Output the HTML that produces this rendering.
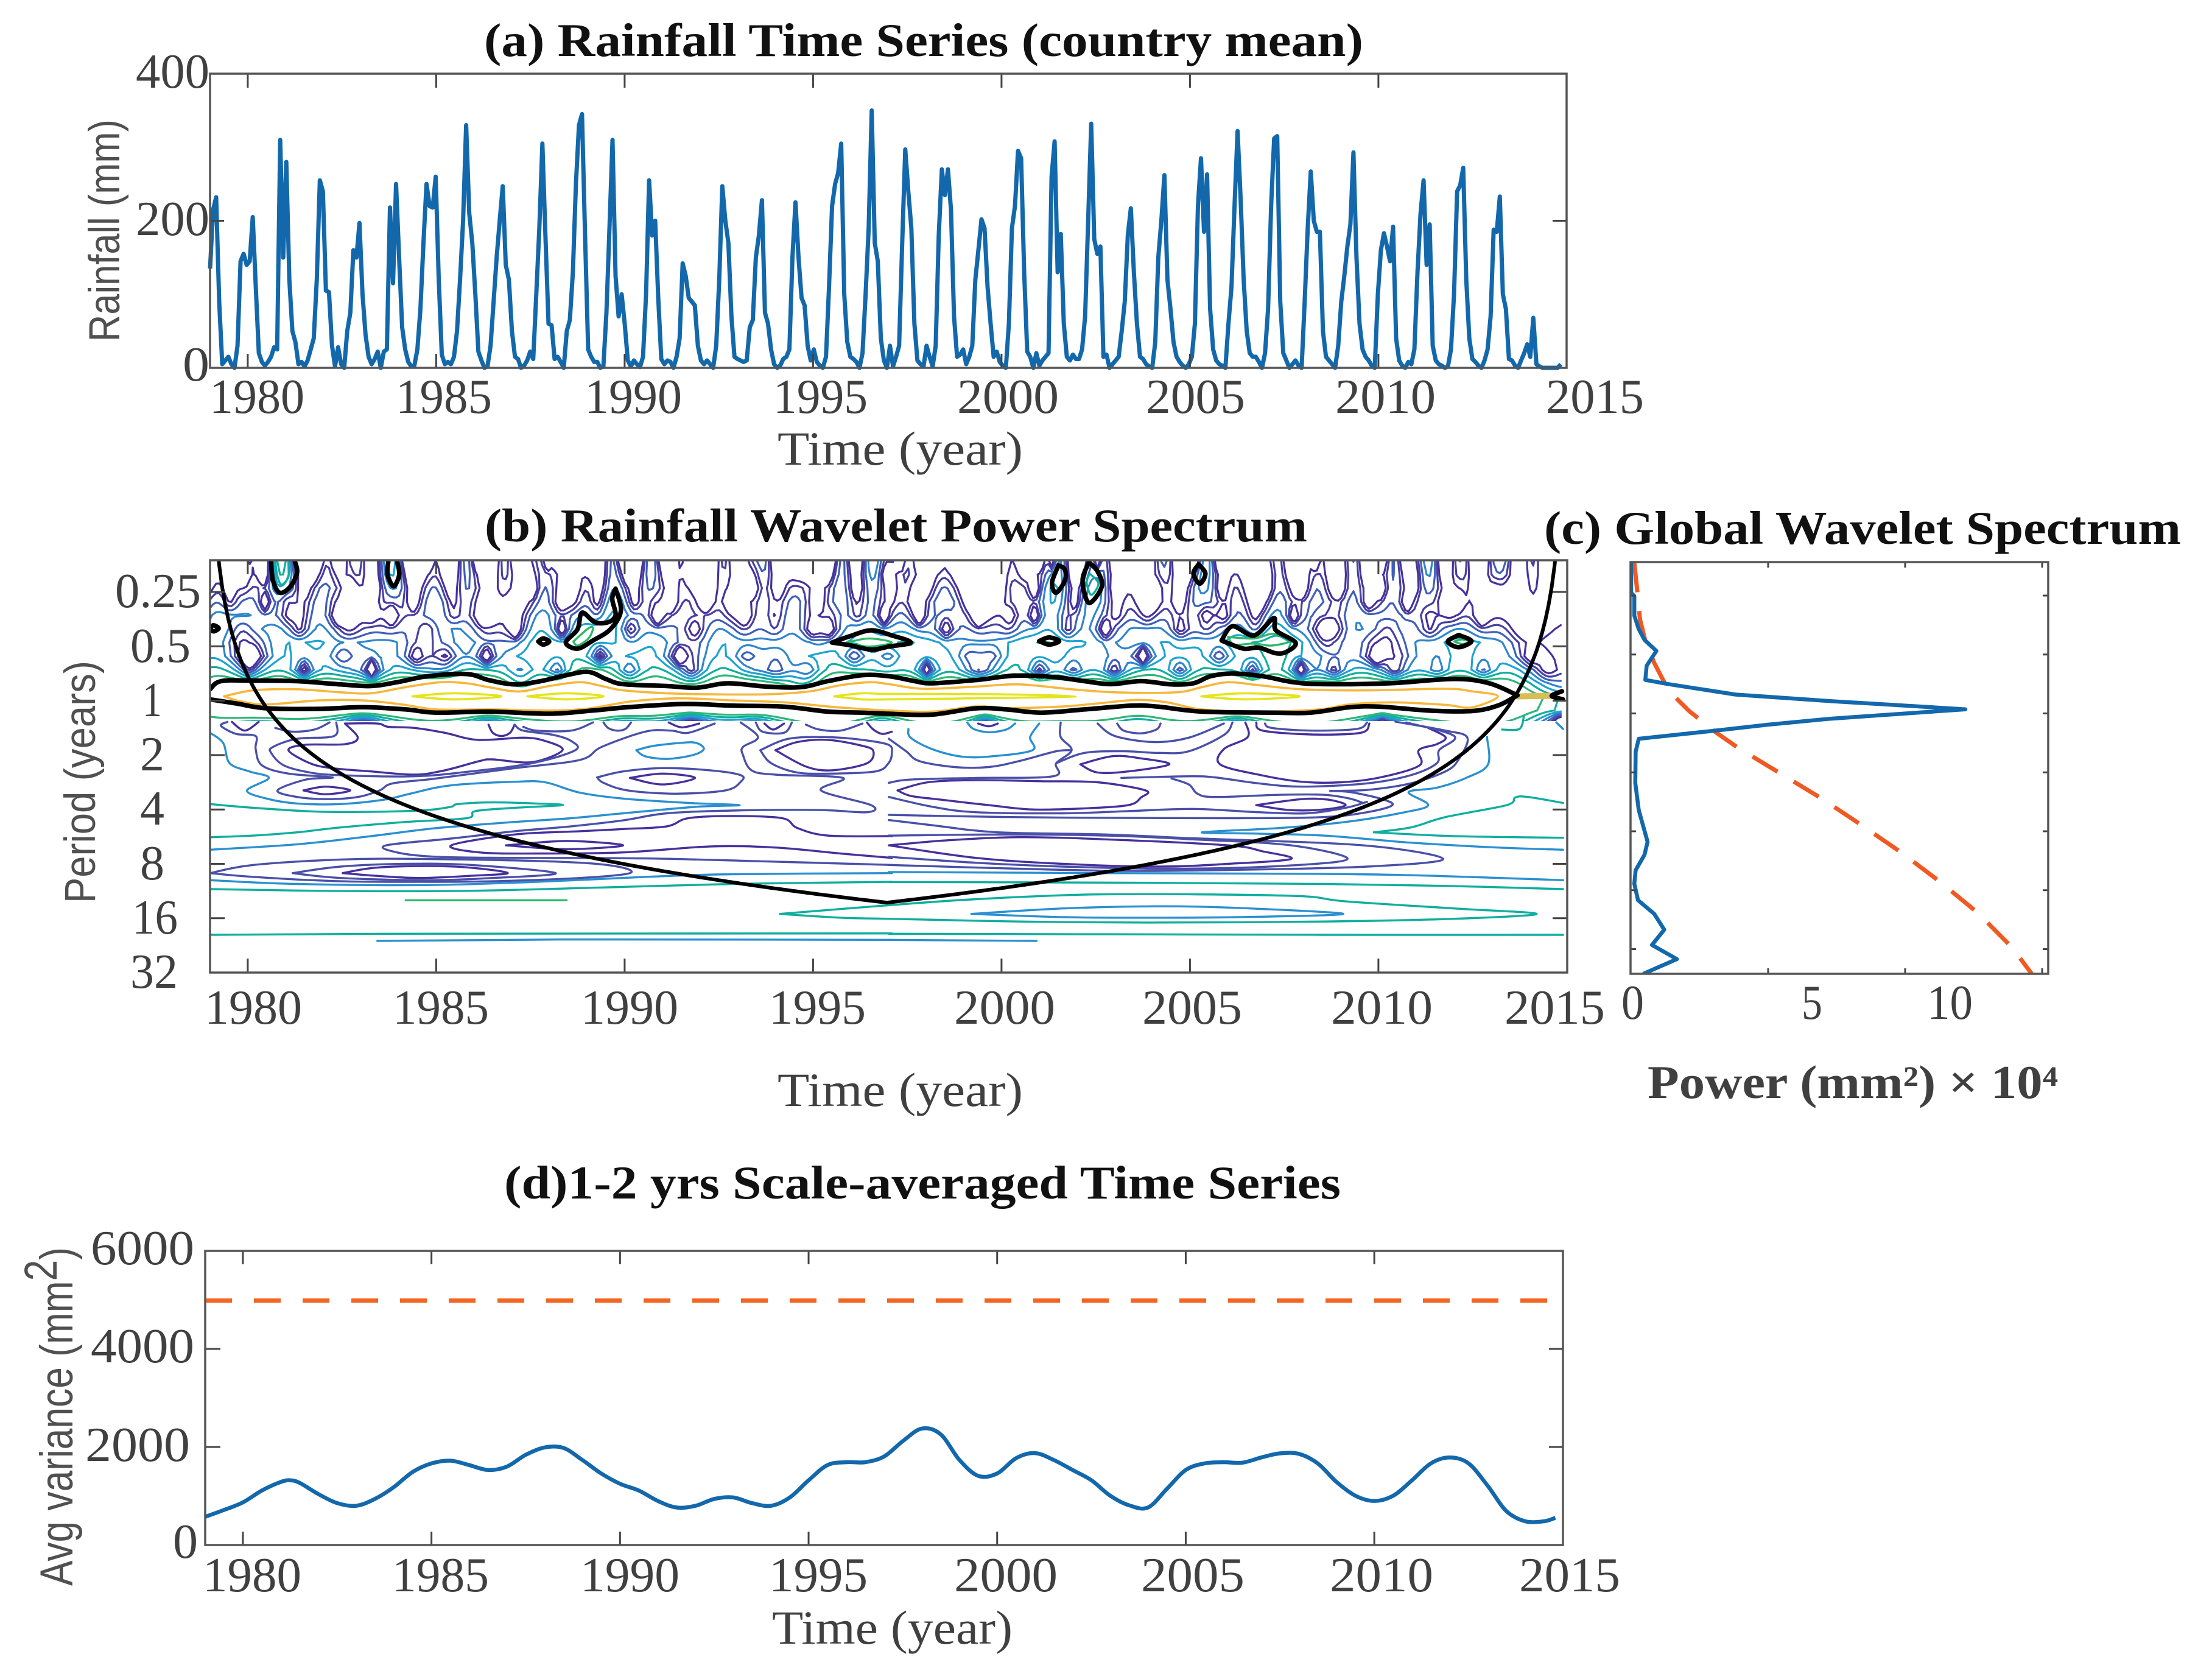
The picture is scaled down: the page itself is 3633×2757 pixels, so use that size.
<!DOCTYPE html>
<html lang="en"><head><meta charset="utf-8"><title>Rainfall wavelet analysis</title>
<style>
html,body{margin:0;padding:0;background:#fff}
svg{display:block}
.tick{font-family:"Liberation Serif",serif;font-size:80px;fill:#404040}
.lab{font-family:"Liberation Serif",serif;font-size:78px;fill:#404040}
.sans{font-family:"Liberation Sans",sans-serif;font-size:71px;fill:#505050}
.title{font-family:"Liberation Serif",serif;font-weight:bold;font-size:77px;fill:#111}
.frame{fill:none;stroke:#555;stroke-width:3.5}
</style></head><body>
<svg id="fig" xmlns="http://www.w3.org/2000/svg" width="3633" height="2757" viewBox="0 0 3633 2757">
<defs>
<clipPath id="clipB"><rect x="345" y="920" width="2229" height="677"/></clipPath>
<clipPath id="clipBTop"><rect x="345" y="920" width="2229" height="264"/></clipPath>
<clipPath id="clipC"><rect x="2678" y="923" width="686" height="676"/></clipPath>
</defs>
<rect width="3633" height="2757" fill="#fff"/>

<g id="panelA">
<text class="title" x="795" y="92" textLength="1444" lengthAdjust="spacingAndGlyphs">(a) Rainfall Time Series (country mean)</text>
<text class="sans" transform="translate(196,561) rotate(-90)" textLength="365" lengthAdjust="spacingAndGlyphs">Rainfall (mm)</text>
<text class="tick" x="223" y="144" textLength="121" lengthAdjust="spacingAndGlyphs">400</text>
<text class="tick" x="223" y="386" textLength="121" lengthAdjust="spacingAndGlyphs">200</text>
<text class="tick" x="300" y="625" textLength="44" lengthAdjust="spacingAndGlyphs">0</text>
<text class="tick" x="344" y="678" textLength="156" lengthAdjust="spacingAndGlyphs">1980</text>
<text class="tick" x="650" y="678" textLength="158" lengthAdjust="spacingAndGlyphs">1985</text>
<text class="tick" x="960" y="678" textLength="160" lengthAdjust="spacingAndGlyphs">1990</text>
<text class="tick" x="1270" y="678" textLength="155" lengthAdjust="spacingAndGlyphs">1995</text>
<text class="tick" x="1572" y="678" textLength="167" lengthAdjust="spacingAndGlyphs">2000</text>
<text class="tick" x="1882" y="678" textLength="163" lengthAdjust="spacingAndGlyphs">2005</text>
<text class="tick" x="2193" y="678" textLength="165" lengthAdjust="spacingAndGlyphs">2010</text>
<text class="tick" x="2539" y="678" textLength="161" lengthAdjust="spacingAndGlyphs">2015</text>
<text class="lab" x="1277" y="763" textLength="403" lengthAdjust="spacingAndGlyphs">Time (year)</text>
</g>

<g id="panelB">
<text class="title" x="796" y="889" textLength="1351" lengthAdjust="spacingAndGlyphs">(b) Rainfall Wavelet Power Spectrum</text>
<text class="sans" transform="translate(156,1483) rotate(-90)" textLength="398" lengthAdjust="spacingAndGlyphs">Period (years)</text>
<text class="tick" x="189" y="997" textLength="141" lengthAdjust="spacingAndGlyphs">0.25</text>
<text class="tick" x="214" y="1087" textLength="99" lengthAdjust="spacingAndGlyphs">0.5</text>
<text class="tick" x="234" y="1176" textLength="32" lengthAdjust="spacingAndGlyphs">1</text>
<text class="tick" x="230" y="1265" textLength="40" lengthAdjust="spacingAndGlyphs">2</text>
<text class="tick" x="230" y="1354" textLength="40" lengthAdjust="spacingAndGlyphs">4</text>
<text class="tick" x="230" y="1444" textLength="40" lengthAdjust="spacingAndGlyphs">8</text>
<text class="tick" x="217" y="1533" textLength="75" lengthAdjust="spacingAndGlyphs">16</text>
<text class="tick" x="214" y="1622" textLength="78" lengthAdjust="spacingAndGlyphs">32</text>
<text class="tick" x="336" y="1681" textLength="160" lengthAdjust="spacingAndGlyphs">1980</text>
<text class="tick" x="645" y="1681" textLength="158" lengthAdjust="spacingAndGlyphs">1985</text>
<text class="tick" x="954" y="1681" textLength="160" lengthAdjust="spacingAndGlyphs">1990</text>
<text class="tick" x="1263" y="1681" textLength="159" lengthAdjust="spacingAndGlyphs">1995</text>
<text class="tick" x="1567" y="1681" textLength="166" lengthAdjust="spacingAndGlyphs">2000</text>
<text class="tick" x="1876" y="1681" textLength="164" lengthAdjust="spacingAndGlyphs">2005</text>
<text class="tick" x="2186" y="1681" textLength="167" lengthAdjust="spacingAndGlyphs">2010</text>
<text class="tick" x="2471" y="1681" textLength="165" lengthAdjust="spacingAndGlyphs">2015</text>
<text class="lab" x="1277" y="1816" textLength="403" lengthAdjust="spacingAndGlyphs">Time (year)</text>
</g>

<g id="panelC">
<text class="title" x="2536" y="893" textLength="1046" lengthAdjust="spacingAndGlyphs">(c) Global Wavelet Spectrum</text>
<text class="tick" x="2663" y="1673" textLength="37" lengthAdjust="spacingAndGlyphs">0</text>
<text class="tick" x="2959" y="1673" textLength="34" lengthAdjust="spacingAndGlyphs">5</text>
<text class="tick" x="3165" y="1673" textLength="75" lengthAdjust="spacingAndGlyphs">10</text>
<text class="title" style="fill:#404040" x="2706" y="1803" textLength="674" lengthAdjust="spacingAndGlyphs">Power (mm²) × 10⁴</text>
</g>

<g id="panelD">
<text class="title" x="828" y="1968" textLength="1374" lengthAdjust="spacingAndGlyphs">(d)1-2 yrs Scale-averaged Time Series</text>
<text class="sans" style="font-size:76px" transform="translate(119,2604) rotate(-90)" textLength="556" lengthAdjust="spacingAndGlyphs">Avg variance (mm<tspan dy="-26">2</tspan><tspan dy="26">)</tspan></text>
<text class="tick" x="149" y="2076" textLength="170" lengthAdjust="spacingAndGlyphs">6000</text>
<text class="tick" x="149" y="2237" textLength="170" lengthAdjust="spacingAndGlyphs">4000</text>
<text class="tick" x="140" y="2399" textLength="172" lengthAdjust="spacingAndGlyphs">2000</text>
<text class="tick" x="284" y="2558" textLength="41" lengthAdjust="spacingAndGlyphs">0</text>
<text class="tick" x="333" y="2613" textLength="162" lengthAdjust="spacingAndGlyphs">1980</text>
<text class="tick" x="644" y="2613" textLength="159" lengthAdjust="spacingAndGlyphs">1985</text>
<text class="tick" x="953" y="2613" textLength="163" lengthAdjust="spacingAndGlyphs">1990</text>
<text class="tick" x="1263" y="2613" textLength="162" lengthAdjust="spacingAndGlyphs">1995</text>
<text class="tick" x="1567" y="2613" textLength="170" lengthAdjust="spacingAndGlyphs">2000</text>
<text class="tick" x="1874" y="2613" textLength="170" lengthAdjust="spacingAndGlyphs">2005</text>
<text class="tick" x="2184" y="2613" textLength="170" lengthAdjust="spacingAndGlyphs">2010</text>
<text class="tick" x="2495" y="2613" textLength="166" lengthAdjust="spacingAndGlyphs">2015</text>
<text class="lab" x="1268" y="2699" textLength="395" lengthAdjust="spacingAndGlyphs">Time (year)</text>
</g>
</svg>
<script>
// ---------- chart data ----------
const yearTicks = [1980,1985,1990,1995,2000,2005,2010];
const rainStartYear = 1979;
const rainStepYears = 0.0809;
const rainMm = [
135,215,232,90,5,10,15,5,0,30,145,155,
140,145,205,110,20,8,3,8,15,28,25,310,
150,280,120,50,35,5,8,2,10,25,40,120,
255,240,105,103,30,2,28,5,0,50,75,160,
150,197,100,45,15,5,12,22,0,22,25,218,
115,250,150,55,25,8,2,3,25,80,170,250,
220,218,260,120,18,5,8,5,15,50,120,200,
330,210,170,100,22,10,0,2,30,90,150,200,
247,140,120,50,15,12,0,3,10,22,12,100,
190,305,180,60,58,12,15,8,0,50,65,130,
250,330,345,180,25,15,8,8,0,2,75,190,
310,125,70,100,60,10,2,10,5,1,15,100,
255,180,200,95,12,5,10,8,0,15,40,142,
125,95,90,85,30,10,5,10,5,0,30,120,
247,200,170,70,15,12,10,8,10,55,65,150,
180,228,75,60,25,5,0,3,12,15,25,150,
225,150,95,85,30,10,25,8,3,0,15,110,
220,250,265,305,100,35,15,12,8,0,20,100,
190,350,170,145,40,10,0,30,2,15,30,170,
297,240,190,60,10,5,2,30,15,2,30,180,
270,235,270,215,70,15,18,25,5,15,30,120,
160,202,190,110,60,15,22,8,3,0,60,190,
220,295,285,130,22,15,0,20,3,10,15,20,
260,308,130,182,60,15,10,18,12,12,25,70,
200,332,175,155,165,15,18,0,5,10,15,50,
90,180,217,130,60,15,12,5,2,0,35,150,
200,262,120,80,35,15,8,3,0,5,15,60,
220,285,185,263,80,25,10,5,3,0,60,110,
220,322,230,120,50,20,15,15,8,0,20,80,
220,312,315,90,20,10,0,5,10,3,0,90,
190,267,200,185,185,50,15,10,5,0,30,90,
125,165,195,293,150,60,25,15,10,3,0,100,
160,183,165,145,192,40,10,3,0,8,5,25,
130,210,255,140,195,30,10,5,3,0,2,25,
100,240,248,272,120,40,12,8,3,0,10,25,
70,188,185,233,100,80,12,10,3,0,10,20,
32,15,68,5,2,0,0,0,0,0,0,5];

const rainYTicks = [200];
const periodTicksLog2 = [-2,-1,0,1,2,3,4];
// power levels (mm^2) contoured from the computed wavelet transform at short periods
const contourLevels = [200,400,800,1600,3200,6400,12800];
const contourColors = ['#46309c','#47409f','#3f60b8','#2f86cc','#1ea3d0','#12ae9e','#2db77a'];
const shortPeriodAttenuationLog2 = 1.5;
const coiFactor = 0.73;

// contours, grouped by band. Each entry is year, log2(period), year, log2(period)...
const openPurple = [
[1979.58,.39,1979.92,.55,1980.29,.39],
[1986.39,.44,1986.5,.59,1986.73,.65,1986.96,.59,1987.08,.44],
[1991.17,.40,1991.52,.49,1991.98,.42],
[1993.71,.42,1993.94,.53,1994.23,.42],
[1996.43,.40,1996.6,.53,1996.83,.61,1997.09,.57],
[1999.38,.42,1999.66,.47,1999.9,.42],
[1997.09,2.49,1995.39,2.48,1994.58,2.34,1994.18,2.16,1992.85,2.12,1991.69,2.16,1991.12,2.31,1989.96,2.36,1988.81,2.40,1987.08,2.46,1985.4,2.66,1986.15,2.79,1987.66,2.81,1989.96,2.79,1992.27,2.68,1994,2.70,1995.73,2.81,1997.09,2.89],
[2006.47,.40,2006.53,.67,2005.9,.89,2005.8,1.17,2006.82,1.36,2007.97,1.49,2009.01,1.50,2010.05,1.41,2011.09,1.19,2011.07,.91,2011.55,.80,2011.78,.67,2011.32,.50],
[2006.76,.40,2006.93,.55,2008.2,.62,2009.53,.59,2009.76,.42]
];
const closedPurple = [
[1982.58,.42,1982.92,.68,1982.58,.80,1981.54,.81,1981.08,.91,1981.65,1.15,1982.23,1.24,1983.27,1.30,1984.42,1.36,1985.23,1.28,1986.15,1.11,1986.5,1.08,1987.54,1.13,1988.35,.91,1987.89,.74,1987.31,.68,1986.1,.72,1985.23,.59,1984.42,.50,1983.73,.48,1983.44,.42],
[1981.48,1.65,1982.06,1.58,1982.72,1.65,1982.06,1.72],
[1990.14,1.42,1991,1.34,1991.87,1.42,1991,1.54],
[1986.85,2.66,1988.46,2.58,1989.96,2.66,1988.46,2.73],
[1994,.91,1994.58,.76,1995.39,.72,1996.31,.83,1996.6,.93,1996.43,1.15,1995.5,1.28,1994.81,1.21],
[1982.52,3.17,1983.39,3.07,1984.77,3.04,1985.92,3.07,1986.9,3.17,1985.92,3.22,1984.54,3.26,1983.39,3.22],
[2002.09,1.17,2002.95,1.02,2003.7,1.06,2004.45,1.17,2003.36,1.30,2002.55,1.32],
[1997.24,1.65,1998.05,1.50,1999.32,1.46,2001.05,1.48,2002.55,1.50,2003.82,1.65,2003.7,1.78,2003.36,1.92,2002.2,1.98,2000.82,2.0,1999.66,1.92,1998.39,1.82,1997.59,1.75],
[2006.76,1.92,2007.97,1.81,2008.67,1.82,2009.13,1.92,2008.55,2.0,2007.63,2.01],
[1997.01,2.66,1998.51,2.57,2000.47,2.51,2002.78,2.55,2006.01,2.66,2006.93,2.77,2007.68,2.91,2006.01,3.0,2004.16,3.05,2001.63,3.0,1999.32,2.89]
];
const openIndigo = [
[1982.35,.40,1982.29,.65,1981.31,.70,1980.67,.85,1980.62,.96,1980.96,1.19,1981.65,1.32,1982.46,1.37,1984.42,1.39,1985.92,1.30,1987.54,1.15,1988.69,.91,1988.58,.74,1988.12,.63,1987.31,.55,1987.08,.44],
[1979.46,.39,1979.29,.46,1979.69,.61,1980.21,.65,1980.21,.89,1980.38,1.19,1981.08,1.34,1982.25,1.41,1981.54,1.45,1980.79,1.65,1981.31,1.77,1982.12,1.81,1982.92,1.77,1983.5,1.65,1983.85,1.52,1985.0,1.43,1987.08,1.24,1988.81,1.09,1989.39,.85,1990.54,.57,1991.23,.55,1991.69,.59,1992.39,.42],
[1980.73,.50,1981.19,.57,1981.77,.53,1982.17,.40],
[1987.31,.48,1987.66,.55,1988.58,.55,1989.16,.40],
[1989.44,.40,1989.56,.50,1989.79,.55,1990.02,.52,1990.17,.40],
[1993.08,.40,1993.54,.67,1993.14,.85,1993.14,1.0,1993.37,1.28,1994,1.36,1995.79,1.42,1995.21,1.65,1996.54,1.92,1996.43,2.05,1995.16,2.01,1992.85,2.02,1991.12,2.07,1989.96,2.20,1988.58,2.31,1987.08,2.40,1985.46,2.53,1983.67,2.66,1983.96,2.79,1985.0,2.87,1987.08,2.89,1990.54,2.90,1994,2.96,1997.09,3.02],
[1993.48,.40,1993.66,.57,1994.23,.59,1994.44,.40],
[1994.81,.44,1995.16,.53,1995.73,.55,1996.31,.42],
[2001.57,.40,2001.57,.67,2001.86,.91,2001.45,1.15,2001.37,1.39,1999.32,1.42,1997.59,1.45,1997.01,1.51],
[2002.55,.42,2003.01,.65,2004.05,.76,2004.97,.68,2005.9,.42],
[2003.07,.42,2003.24,.55,2003.7,.60,2004.11,.53,2004.22,.42],
[1997.01,.70,1997.47,.93,1997.82,1.11,1998.74,1.22,1999.66,1.22,2000.47,1.11,2001.45,.93,2001.86,.91],
[2001.45,1.15,2002.2,.96,2003.24,.93,2004.16,.96,2004.97,.93,2005.9,.63,2006.13,.40],
[1997.01,1.77,1998.16,1.95,1999.32,2.05,2001.63,2.07,2003.36,2.03,2005.09,1.99,2006.82,2.05,2008.09,2.07,2009.13,1.97,2009.7,1.86],
[2003.18,1.42,2004.97,1.39,2005.66,1.41,2006.82,1.52,2007.97,1.58,2009.7,1.52,2010.86,1.37,2011.55,1.15,2011.61,.91,2012.01,.65,2010.74,.40],
[2004.51,1.43,2004.97,1.54,2005.2,1.71,2005.66,1.77,2007.4,1.73,2008.55,1.73,2009.24,1.80,2009.59,1.88],
[2008.72,1.66,2009.24,1.68,2010.05,1.80,2010.37,1.92,2009.7,2.05,2008.55,2.14,2006.24,2.16,2001.63,2.15,1999.32,2.13,1997.01,2.10],
[2008.72,1.66,2009.7,1.64,2010.86,1.52,2011.78,1.30,2012.13,1.08,2012.36,.68,2011.78,.55,2010.45,.385],
[1997.01,2.195,1998.16,2.29,1999.9,2.42,2002.78,2.46,2005.09,2.53,2009.59,2.66,2011.72,2.91,2009.7,3.05,2006.24,3.11,2003.36,3.13,2000.47,3.09,1997.01,3.02],
[1997.01,2.48,1999.9,2.46,2002.78,2.48,2005.09,2.55,2007.68,2.66,2009.18,2.91,2007.4,3.04,2004.51,3.09,2001.63,3.05,1999.32,2.98,1997.01,2.87],
[2006.99,.42,2007.17,.50,2008.2,.55,2009.42,.52,2009.7,.40]
];
const closedIndigo = [
[1989.27,1.41,1989.96,1.30,1991,1.24,1992.27,1.28,1993.08,1.37,1993.08,1.49,1992.67,1.65,1991.35,1.71,1990.08,1.65,1989.44,1.51],
[1993.6,.91,1993.89,1.15,1994.58,1.32,1995.5,1.34,1996.66,1.30,1997.0,1.15,1997.09,.96,1997.0,.81,1996.31,.72,1995.39,.67,1994.35,.70],
[1979,3.17,1980.15,3.02,1982.46,2.92,1984.77,2.91,1988.23,2.96,1989.73,3.04,1990.14,3.17,1988.81,3.26,1986.5,3.32,1984.77,3.33,1982.46,3.32,1980.15,3.24],
[1981.19,3.17,1982.46,3.05,1984.19,3.0,1985.92,3.02,1988.17,3.17,1986.5,3.26,1984.77,3.30,1982.46,3.26]
];
const openBlue = [
[1979,.59,1979.35,.78,1979.52,1.15,1980.04,1.30,1980.56,1.42,1979.98,1.65,1980.5,1.80,1981.31,1.89,1982.46,1.90,1983.62,1.82,1984.31,1.71,1985.35,1.56,1987.08,1.49,1987.89,1.50,1988.81,1.69,1989.96,1.80,1991.69,1.88,1993.05,1.92,1991.92,1.95,1989.96,2.07,1988.58,2.16,1987.08,2.23,1985.92,2.29,1984.77,2.36,1983.04,2.51,1981.31,2.64,1979,2.74],
[1979,3.30,1981.31,3.37,1984.77,3.39,1987.66,3.33,1990.54,3.24,1992.85,3.19,1997.09,3.17],
[1983.44,4.417,1988.23,4.391,1997.09,4.398],
[1997.53,.52,1997.59,.68,1998.16,.89,1998.97,1.03,1999.78,1.02,2000.82,.91,2000.76,.67,2001,.42],
[1999.09,.40,1999.26,.52,1999.66,.58,2000.13,.53,2000.36,.42],
[2012.88,.665,2012.91,1.17,2012.36,1.41,2011.55,1.60,2010.8,1.68,2011.32,1.92,2010.63,2.06,2009.13,2.23,2007.4,2.34,2005.32,2.42,2006.82,2.445,2008.55,2.48,2010.86,2.61,2013.17,2.70,2014.9,2.74],
[1997.01,3.15,2002.78,3.17,2008.55,3.185,2011.44,3.22,2014.9,3.30],
[1997.01,4.398,2000.93,4.417],
[2014.72,.40,2014.9,.52]
];
const closedBlue = [
[1990.31,.91,1990.77,.83,1991.58,.77,1991.92,.78,1992.1,.89,1991.81,1.0,1991.12,1.07,1990.54,1.02],
[1999.2,3.92,2001.63,3.82,2004.16,3.78,2006.24,3.81,2009.07,3.92,2006.24,3.98,2003.93,3.99,2001.63,3.98]
];
const openTeal = [
[1979,1.90,1980.15,1.97,1981.89,2.04,1983.62,2.04,1984.77,2.01,1985.4,1.95,1985.58,1.90,1986.5,1.87,1987.65,1.89,1988.35,1.92,1987.08,1.97,1986.04,2.03,1985.81,2.16,1984.19,2.23,1982.46,2.33,1981.31,2.42,1980.15,2.48,1979,2.51],
[1979,3.465,1982.46,3.50,1985.92,3.495,1989.39,3.435,1992.85,3.37,1997.09,3.33],
[1979,4.305,1983.62,4.286,1997.09,4.279],
[2009.88,2.42,2010.86,2.33,2011.78,2.14,2013.4,1.92,2013.63,1.78,2013.97,1.77,2014.9,1.88],
[2009.88,2.42,2012.01,2.49,2014.9,2.52],
[1997.01,3.334,2002.78,3.345,2008.55,3.37,2012.01,3.41,2014.9,3.465],
[1997.01,4.286,2002.78,4.294,2008.55,4.305,2014.9,4.305],
[2013.28,.53,2013.74,.52,2013.86,.29],
[1980.73,-2.563,1980.79,-2.283,1980.9,-2.134,1981.08,-2.283,1981.08,-2.563]
];
const closedTeal = [
[1994.12,3.92,1997.01,3.76,1999.32,3.65,2002.2,3.565,2005.09,3.56,2007.97,3.595,2009.13,3.69,2012.01,3.82,2014.2,3.92,2012.01,4.01,2008.55,4.06,2003.93,4.08,2000.47,4.06,1997.01,4.01,1995.73,3.99],
[2002.34,-2.339,2002.26,-2.171,2002.38,-1.947,2002.57,-2.153]
];
const openGreen = [
[1984.19,3.67,1988.46,3.67]
];
const closedGreen = [
[1988.64,-1.089,1989.04,-1.331,1989.16,-1.331,1989.04,-1.145,1988.75,-1.014],
[1995.91,-1.07,1996.48,-1.145,1997.09,-1.07,1996.48,-.995],
[2006.01,-1.171,2006.7,-1.145,2007.22,-1.231,2007.68,-1.107,2007.17,-1.014,2006.7,-1.051,2006.18,-1.033],
[2012.01,-1.089,2012.22,-1.126,2012.42,-1.08,2012.22,-1.044]
];
const closedOrange = [
[1979.37,-.08,1980.15,-.19,1981.31,-.21,1982.46,-.155,1983.27,-.137,1984.19,-.25,1985.12,-.34,1985.81,-.32,1986.39,-.25,1987.19,-.17,1988,-.27,1988.81,-.34,1989.39,-.27,1989.96,-.19,1991.12,-.137,1992.27,-.118,1993.77,-.118,1994.93,-.174,1995.73,-.286,1996.54,-.34,1997.01,-.305,1997.93,-.22,1999.32,-.26,2000.47,-.30,2001.86,-.21,2003.01,-.155,2004.63,-.155,2005.32,-.25,2006.01,-.34,2006.82,-.286,2007.97,-.21,2009.7,-.19,2011.78,-.22,2012.47,-.174,2013.17,-.08,2012.47,.124,2011.78,.076,2010.4,.03,2009.24,.068,2008.43,.16,2006.82,.20,2005.32,.16,2004.39,.03,2003.59,-.015,2002.55,.05,2001.63,.106,2000.24,.135,1999.32,.106,1998.16,.20,1997.01,.18,1996.08,.143,1995.39,.106,1994.23,.03,1992.85,-.006,1991.46,-.044,1990.19,.012,1989.04,.143,1988,.18,1986.5,.16,1985,.16,1984.08,.068,1983.04,-.006,1981.89,-.006,1980.5,.068,1979.81,.012]
];
const closedYellow = [
[1984.37,-.081,1985.46,-.137,1986.73,-.081,1985.46,-.025],
[1987.42,-.081,1988.46,-.137,1989.44,-.081,1988.46,-.025],
[1995.56,-.081,1996.31,-.137,1997.01,-.125,1999.9,-.118,2001.97,-.081,1999.9,-.05,1997.01,-.025,1996.31,-.025],
[2005.3,-.081,2006.47,-.137,2007.91,-.081,2006.47,-.025]
];
const openOchre = [
[2013.69,-.08,2014.66,-.09]
];
const openSignificant = [
[1979,-.21,1979.29,-.36,1980.15,-.37,1981.31,-.36,1982.46,-.30,1983.27,-.27,1983.96,-.34,1984.77,-.45,1985.81,-.49,1986.39,-.38,1987.08,-.30,1987.77,-.36,1988.46,-.47,1989.04,-.53,1989.5,-.40,1989.96,-.305,1991.12,-.27,1991.92,-.24,1992.73,-.32,1993.77,-.26,1994.69,-.25,1995.39,-.36,1996.31,-.47,1997.01,-.45,1997.7,-.36,1998.16,-.32,1999.32,-.38,2000.36,-.46,2001.39,-.435,2002.2,-.36,2002.9,-.305,2003.7,-.36,2004.51,-.30,2005.09,-.32,2005.55,-.45,2006.13,-.50,2006.93,-.45,2007.74,-.34,2008.55,-.305,2010.28,-.32,2012.01,-.40,2012.94,-.32,2013.69,-.10],
[1979,-.025,1979.69,.05,1980.5,.14,1981.89,.15,1983.04,.12,1984.19,.16,1985,.22,1986.39,.20,1988,.24,1989.16,.18,1990.08,.12,1991.58,.06,1992.85,.09,1994.23,.11,1995.39,.20,1996.31,.22,1997.01,.24,1998.16,.255,1999.32,.14,2000.13,.16,2001.05,.22,2002.2,.16,2003.47,.09,2004.16,.11,2005.32,.20,2007.17,.22,2008.2,.22,2009.24,.12,2010.05,.11,2011.32,.18,2012.47,.19,2013.17,.09,2013.69,-.10],
[1980.62,-2.563,1980.67,-2.209,1980.85,-1.985,1981.13,-2.097,1981.31,-2.358,1981.25,-2.563],
[1983.73,-2.563,1983.71,-2.321,1983.87,-2.104,1984.02,-2.321,1983.96,-2.563],
[2014.87,-.174,2014.6,-.088,2014.9,-.025]
];
const closedSignificant = [
[1989.76,-2.059,1989.9,-1.649,1989.62,-1.313,1989.16,-1.107,1988.75,-.958,1988.44,-1.07,1988.75,-1.313,1988.87,-1.619,1989.21,-1.443,1989.56,-1.443,1989.76,-1.574,1989.67,-1.873],
[1979,-1.331,1979.09,-1.387,1979.23,-1.331,1979.09,-1.275],
[1987.71,-1.089,1987.84,-1.145,1988,-1.089,1987.84,-1.033],
[1995.5,-1.07,1995.96,-1.182,1996.54,-1.294,1997.09,-1.201,1997.59,-1.07,1997.01,-.995,1996.54,-.939,1995.96,-1.022],
[2001.51,-2.489,2001.34,-2.171,2001.45,-1.985,2001.68,-2.209,2001.68,-2.414],
[2002.32,-2.545,2002.15,-2.209,2002.32,-1.798,2002.66,-2.097,2002.55,-2.377],
[2005.23,-2.507,2005.09,-2.339,2005.26,-2.153,2005.41,-2.339],
[2001,-1.096,2001.26,-1.163,2001.53,-1.096,2001.26,-1.033],
[2005.84,-1.107,2006.13,-1.369,2006.7,-1.201,2007.22,-1.518,2007.28,-1.294,2007.8,-1.07,2007.57,-.902,2007.28,-.872,2006.82,-.977,2006.42,-.958],
[2012.13,-1.208,2012.47,-1.096,2012.13,-.984,2011.84,-1.089]
];

const gwsPeriodLog2 = [-2.57,-2.05,-1.99,-1.66,-1.43,-1.25,-1.06,-0.81,-0.57,-0.50,-0.42,-0.32,-0.21,-0.07,0.09,0.19,0.29,0.43,0.65,1.18,1.64,2.18,2.40,2.66,2.89,3.17,3.40,3.67,3.93,4.17,4.42];
const gwsPower = [0,0,0.116,0.116,0.277,0.486,0.92,0.566,0.518,1.32,2.44,3.81,7.26,12.2,7.26,5.01,3.09,0.277,0.165,0.15,0.277,0.6,0.486,0.165,0.116,0.25,0.84,1.21,0.76,1.67,0.44];
const sigPeriodLog2 = [-2.55,-2.05,-1.59,-1.23,-0.86,-0.50,-0.26,-0.04,0.32,0.58,1.44,1.89,2.35,2.86,3.38,3.98,4.42];
const sigPower = [0.116,0.23,0.325,0.518,0.84,1.24,1.64,2.12,3.09,3.89,6.94,8.39,9.83,11.28,12.64,13.92,14.62];
const powerTicks = [5,10,15];
const cPeriodTicksLog2 = [-2,-1,0,1,2,3,4];

const avgYears = [1979,1979.5,1980,1980.5,1981,1981.25,1981.5,1982,1982.5,1983,1983.5,1984,1984.5,1985,1985.5,1986,1986.5,1987,1987.5,1988,1988.5,1989,1989.5,1990,1990.5,1991,1991.5,1992,1992.5,1993,1993.5,1994,1994.5,1995,1995.5,1996,1996.5,1997,1997.5,1998,1998.5,1999,1999.5,2000,2000.5,2001,2001.5,2002,2002.5,2003,2003.5,2004,2004.5,2005,2005.5,2006,2006.5,2007,2007.5,2008,2008.5,2009,2009.5,2010,2010.5,2011,2011.5,2012,2012.5,2013,2013.5,2014,2014.5,2014.8];
const avgVariance = [575,715,870,1110,1285,1320,1270,1040,855,800,940,1180,1490,1665,1720,1630,1530,1600,1840,1990,1980,1735,1460,1250,1110,900,765,800,940,970,855,800,970,1320,1630,1690,1690,1805,2120,2375,2260,1735,1410,1460,1770,1875,1735,1530,1320,1005,810,765,1145,1530,1665,1690,1680,1785,1870,1860,1665,1285,1005,900,1005,1320,1665,1785,1665,1215,695,485,485,555];
const avgThreshold = [4986];
const avgYTicks = [2000,4000];

// ---------- axis functions ----------
const xA = t => 345 + 61.9*(t-1979);
const yA = v => 604 - v*483/400;
const xB = t => 345 + 61.9*(t-1979);
const yB = l => 1150.6 + 89.3*l;
const xC = v => 2679 + 45*v;
const yC = l => 978 + 96.75*(l+2);
const xD = t => 337 + 61.94*(t-1979);
const yD = v => 2537 - v*483/6000;

const NS = 'http://www.w3.org/2000/svg';
const panelA = document.getElementById('panelA');
const panelB = document.getElementById('panelB');
const panelC = document.getElementById('panelC');
const panelD = document.getElementById('panelD');

function drawTick(parent,x1,y1,x2,y2){
  const el = document.createElementNS(NS,'line');
  el.setAttribute('x1',x1);el.setAttribute('y1',y1);el.setAttribute('x2',x2);el.setAttribute('y2',y2);
  el.setAttribute('stroke','#444');el.setAttribute('stroke-width','3');
  
  
  parent.appendChild(el);
}
function drawFrame(parent,x,y,w,h){
  const el = document.createElementNS(NS,'rect');
  el.setAttribute('x',x);el.setAttribute('y',y);el.setAttribute('width',w);el.setAttribute('height',h);
  el.setAttribute('class','frame');
  
  
  parent.appendChild(el);
}
function makePath(parent,d,stroke,width,dash,clip){
  const el = document.createElementNS(NS,'path');
  el.setAttribute('d',d);el.setAttribute('fill','none');el.setAttribute('stroke',stroke);
  el.setAttribute('stroke-width',width);el.setAttribute('stroke-linejoin','round');
  if(dash) el.setAttribute('stroke-dasharray',dash);
  if(clip) el.setAttribute('clip-path','url(#'+clip+')');
  parent.appendChild(el);
  return el;
}
function polyline(xs,ys){
  return xs.map((x,i)=>(i?'L':'M')+x.toFixed(1)+' '+ys[i].toFixed(1)).join('');
}
function smoothPath(xs,ys){
  let d='M'+xs[0].toFixed(1)+' '+ys[0].toFixed(1);
  for(let i=0;i<xs.length-1;i++){
    const p=Math.max(i-1,0),n=Math.min(i+2,xs.length-1);
    d+='C'+(xs[i]+(xs[i+1]-xs[p])/6).toFixed(1)+' '+(ys[i]+(ys[i+1]-ys[p])/6).toFixed(1)+' '+
      (xs[i+1]-(xs[n]-xs[i])/6).toFixed(1)+' '+(ys[i+1]-(ys[n]-ys[i])/6).toFixed(1)+' '+
      xs[i+1].toFixed(1)+' '+ys[i+1].toFixed(1);
  }
  return d;
}

// ---------- panel a ----------
const rainYears = rainMm.map((v,i)=>rainStartYear+i*rainStepYears);
const rainLine = makePath(panelA,polyline(rainYears.map(xA),rainMm.map(yA)),'#1368ac',7);


yearTicks.forEach(t=>{drawTick(panelA,xA(t),604,xA(t),581);drawTick(panelA,xA(t),121,xA(t),144);});
rainYTicks.forEach(v=>{drawTick(panelA,345,yA(v),368,yA(v));drawTick(panelA,2573,yA(v),2550,yA(v));});
drawFrame(panelA,345,121,2228,483);

// ---------- panel b : Morlet wavelet power of the rainfall series (short periods) ----------
const gridLog2 = [];
for(let k=0;k<=14;k++) gridLog2.push(-2.57+0.25*k);
const rainMean = rainMm.reduce((a,b)=>a+b,0)/rainMm.length;
const anomalies = rainMm.map(v=>v-rainMean);
const dtY = 1/12;
const powerGrid = gridLog2.map(l=>{
  const s = Math.pow(2,l)/1.033;
  const norm = Math.sqrt(dtY/s)*Math.pow(Math.PI,-0.25);
  const half = Math.ceil(4*s/dtY);
  const atten = shortPeriodAttenuationLog2*Math.max(0,Math.min(1,(-0.45-l)/0.4));
  return anomalies.map((_,n)=>{
    let re=0,im=0;
    for(let k=Math.max(0,n-half);k<=Math.min(anomalies.length-1,n+half);k++){
      const eta=(k-n)*dtY/s, g=Math.exp(-eta*eta/2)*anomalies[k];
      re+=g*Math.cos(6*eta);im+=g*Math.sin(6*eta);
    }
    return Math.log2(norm*norm*(re*re+im*im)+1e-6)-atten;
  });
});
function contourPath(grid,level){
  let d='';
  const N=grid[0].length,M=grid.length;
  const X=i=>xB(rainStartYear+i*rainStepYears), Y=j=>yB(gridLog2[j]);
  for(let j=0;j<M-1;j++){
    for(let i=0;i<N-1;i++){
      const a=grid[j][i],b=grid[j][i+1],c=grid[j+1][i+1],e=grid[j+1][i];
      const pts=[];
      if((a>=level)!==(b>=level)) pts.push([X(i+(level-a)/(b-a)),Y(j)]);
      if((b>=level)!==(c>=level)) pts.push([X(i+1),Y(j)+(Y(j+1)-Y(j))*(level-b)/(c-b)]);
      if((e>=level)!==(c>=level)) pts.push([X(i+(level-e)/(c-e)),Y(j+1)]);
      if((a>=level)!==(e>=level)) pts.push([X(i),Y(j)+(Y(j+1)-Y(j))*(level-a)/(e-a)]);
      if(pts.length===2){
        d+='M'+pts[0][0].toFixed(1)+' '+pts[0][1].toFixed(1)+'L'+pts[1][0].toFixed(1)+' '+pts[1][1].toFixed(1);
      }else if(pts.length===4){
        const centre=(a+b+c+e)/4>=level, aHigh=a>=level;
        const pairs=(centre===aHigh)?[[0,1],[2,3]]:[[0,3],[1,2]];
        pairs.forEach(p=>{d+='M'+pts[p[0]][0].toFixed(1)+' '+pts[p[0]][1].toFixed(1)+'L'+pts[p[1]][0].toFixed(1)+' '+pts[p[1]][1].toFixed(1);});
      }
    }
  }
  return d;
}
contourLevels.forEach((lv,i)=>{
  const el = makePath(panelB,contourPath(powerGrid,Math.log2(lv)),contourColors[i],3.2,null,'clipBTop');
  el.setAttribute('stroke-linecap','round');
  
  
});
function drawTraces(traces,closed,color,width){
  traces.forEach(flat=>{
    const xs=[],ys=[];
    for(let k=0;k<flat.length;k+=2){xs.push(xB(flat[k]));ys.push(yB(flat[k+1]));}
    if(closed){xs.push(xs[0]);ys.push(ys[0]);}
    const el = makePath(panelB,smoothPath(xs,ys),color,width,null,'clipB');
    el.setAttribute('stroke-linecap','round');
    
    
  });
}
drawTraces(openPurple,false,'#46309c',3.4);
drawTraces(closedPurple,true,'#46309c',3.4);
drawTraces(openIndigo,false,'#4a50a8',3.4);
drawTraces(closedIndigo,true,'#4a50a8',3.4);
drawTraces(openBlue,false,'#2a90d0',3.4);
drawTraces(closedBlue,true,'#2a90d0',3.4);
drawTraces(openTeal,false,'#10ae9e',3.4);
drawTraces(closedTeal,true,'#10ae9e',3.4);
drawTraces(openGreen,false,'#2cb86a',3.4);
drawTraces(closedGreen,true,'#2cb86a',3.4);
drawTraces(openOchre,false,'#d9bd55',10);
drawTraces(closedOrange,true,'#f6b73c',3.6);
drawTraces(closedYellow,true,'#e4e41e',3.6);
drawTraces(openSignificant,false,'#000000',7.5);
drawTraces(closedSignificant,true,'#000000',7.5);

const coiX=[],coiY=[];
const lastYear = rainStartYear+rainMm.length*rainStepYears;
for(let i=1;i<rainMm.length;i++){
  const t=rainStartYear+i*rainStepYears;
  coiX.push(xB(t));
  coiY.push(yB(Math.log2(coiFactor*Math.min(t-rainStartYear,lastYear-t))));
}
const coiLine = makePath(panelB,polyline(coiX,coiY),'#000',6,null,'clipB');


yearTicks.forEach(t=>{drawTick(panelB,xB(t),1597,xB(t),1574);drawTick(panelB,xB(t),920,xB(t),943);});
periodTicksLog2.forEach(l=>{drawTick(panelB,345,yB(l),369,yB(l));drawTick(panelB,2574,yB(l),2550,yB(l));});
drawFrame(panelB,345,920,2229,677);

// ---------- panel c ----------
const sigCurve = makePath(panelC,polyline(sigPower.map(xC),sigPeriodLog2.map(yC)),'#f05a22',7,'48 31','clipC');


const gwsCurve = makePath(panelC,polyline(gwsPower.map(xC),gwsPeriodLog2.map(yC)),'#1368ac',6.5,null,'clipC');


powerTicks.forEach(v=>{drawTick(panelC,xC(v),1599,xC(v),1590);drawTick(panelC,xC(v),923,xC(v),932);});
cPeriodTicksLog2.forEach(l=>{drawTick(panelC,3364,yC(l),3355,yC(l));drawTick(panelC,2678,yC(l),2687,yC(l));});
drawFrame(panelC,2678,923,686,676);

// ---------- panel d ----------
const thresholdLine = makePath(panelD,'M'+xD(1979)+' '+yD(avgThreshold[0])+'L2567 '+yD(avgThreshold[0]),'#f26522',7,'44 36');


const avgLine = makePath(panelD,smoothPath(avgYears.map(xD),avgVariance.map(yD)),'#1368ac',6.5);


yearTicks.forEach(t=>{drawTick(panelD,xD(t),2537,xD(t),2515);drawTick(panelD,xD(t),2054,xD(t),2076);});
avgYTicks.forEach(v=>{drawTick(panelD,337,yD(v),362,yD(v));drawTick(panelD,2567,yD(v),2544,yD(v));});
drawFrame(panelD,337,2054,2230,483);
</script>
</body></html>
